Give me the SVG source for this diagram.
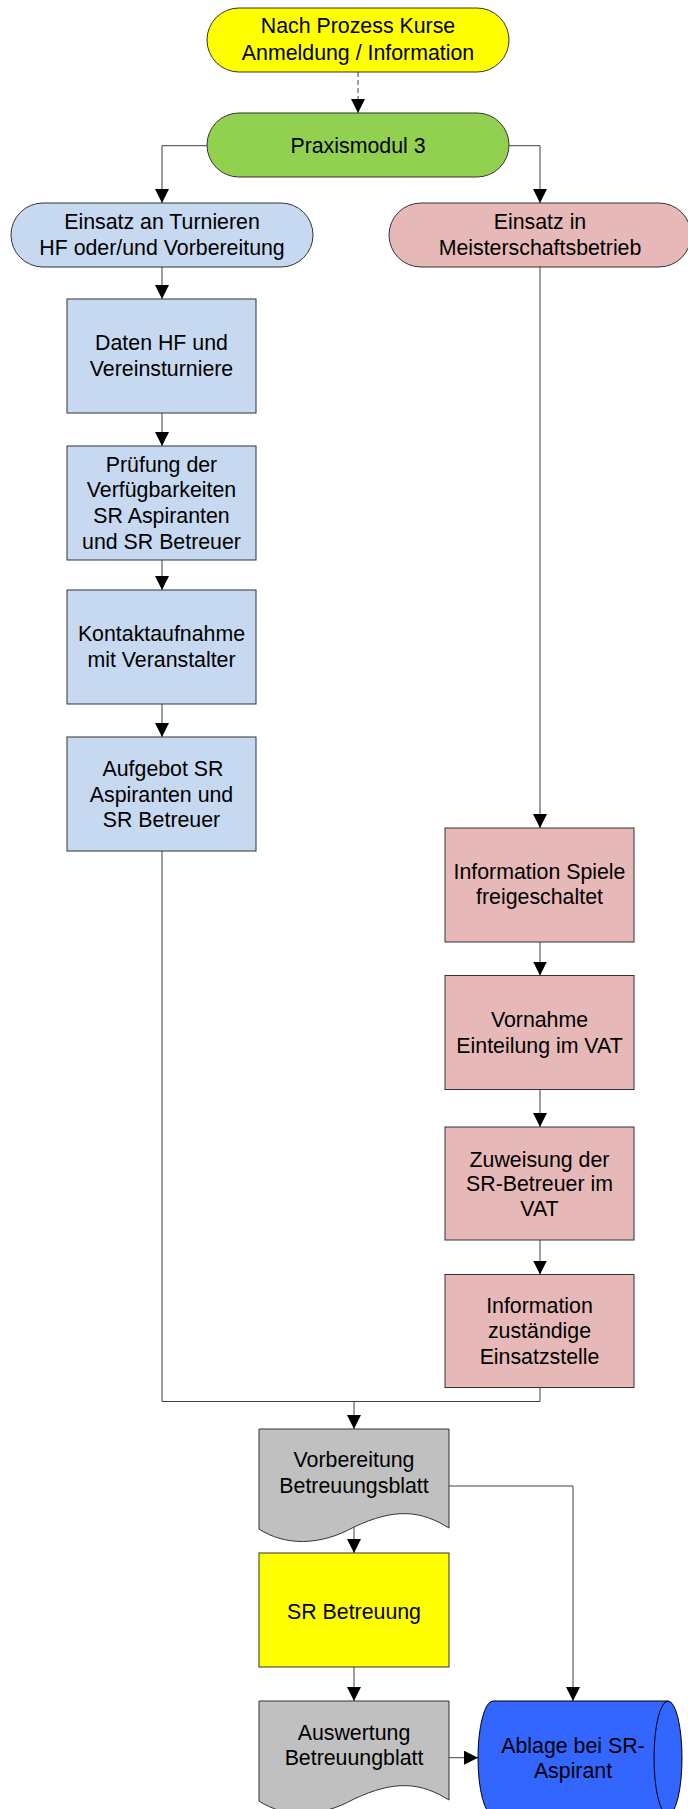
<svg xmlns="http://www.w3.org/2000/svg" width="688" height="1809" viewBox="0 0 688 1809">
<defs>
<marker id="arr" markerWidth="14" markerHeight="14" refX="14" refY="7" orient="auto" markerUnits="userSpaceOnUse"><path d="M0,0 L14,7 L0,14 Z" fill="#000"/></marker>
</defs>
<style>
text{font-family:"Liberation Sans",Arial,sans-serif;font-size:21.33px;fill:#000;text-anchor:middle}
.n{stroke:#333;stroke-width:1}
.c{fill:none;stroke:#404040;stroke-width:1}
.a{marker-end:url(#arr)}
.blue{fill:#C6D9F0}
.pink{fill:#E6B9B8}
.grey{fill:#C0C0C0}
.yel{fill:#FFFF00}
</style>
<g id="connectors">
<path class="c a" d="M358,72 V113" stroke="#222" stroke-dasharray="5,3"/>
<path class="c a" d="M207,145.7 H162 V203"/>
<path class="c a" d="M509,145.7 H540 V203"/>
<path class="c a" d="M162,267 V299"/>
<path class="c a" d="M162,413 V446"/>
<path class="c a" d="M162,560 V590"/>
<path class="c a" d="M162,704 V737"/>
<path class="c a" d="M540,267 V828"/>
<path class="c a" d="M540,942 V975.5"/>
<path class="c a" d="M540,1089 V1127"/>
<path class="c a" d="M540,1240 V1274.5"/>
<path class="c a" d="M162,851 V1401.5 H354 V1429"/>
<path class="c" d="M540,1387.5 V1401.5 H354"/>
<path class="c a" d="M354,1527 V1553"/>
<path class="c a" d="M449,1486 H573 V1701"/>
<path class="c a" d="M354,1667 V1701"/>
<path class="c a" d="M449,1757.7 H478"/>
</g>
<g id="start">
<rect class="n yel" x="207" y="8" width="302" height="64" rx="32"/>
<text x="358" y="33">Nach Prozess Kurse</text>
<text x="358" y="59.5">Anmeldung / Information</text>
</g>
<g id="praxismodul">
<rect class="n" fill="#92D050" x="207" y="113" width="302" height="64" rx="32"/>
<text x="358" y="152.7">Praxismodul 3</text>
</g>
<g id="turniere">
<rect class="n blue" x="11" y="203" width="302" height="64" rx="32"/>
<text x="162" y="229.3">Einsatz an Turnieren</text>
<text x="162" y="255">HF oder/und Vorbereitung</text>
</g>
<g id="meisterschaft">
<rect class="n pink" x="389" y="203" width="302" height="64" rx="32"/>
<text x="540" y="229.3">Einsatz in</text>
<text x="540" y="255">Meisterschaftsbetrieb</text>
</g>
<g id="daten">
<rect class="n blue" x="67" y="299" width="189" height="114"/>
<text x="161.5" y="350">Daten HF und</text>
<text x="161.5" y="375.7">Vereinsturniere</text>
</g>
<g id="pruefung">
<rect class="n blue" x="67" y="446" width="189" height="114"/>
<text x="161.5" y="472">Prüfung der</text>
<text x="161.5" y="497.4">Verfügbarkeiten</text>
<text x="161.5" y="523">SR Aspiranten</text>
<text x="161.5" y="548.7">und SR Betreuer</text>
</g>
<g id="kontakt">
<rect class="n blue" x="67" y="590" width="189" height="114"/>
<text x="161.5" y="640.5">Kontaktaufnahme</text>
<text x="161.5" y="666.5">mit Veranstalter</text>
</g>
<g id="aufgebot">
<rect class="n blue" x="67" y="737" width="189" height="114"/>
<text x="163" y="776">Aufgebot SR</text>
<text x="161.5" y="801.6">Aspiranten und</text>
<text x="161.5" y="827.3">SR Betreuer</text>
</g>
<g id="info-spiele">
<rect class="n pink" x="445" y="828" width="189" height="114"/>
<text x="539.5" y="879">Information Spiele</text>
<text x="539.5" y="904">freigeschaltet</text>
</g>
<g id="vornahme">
<rect class="n pink" x="445" y="975.5" width="189" height="114"/>
<text x="539.5" y="1027">Vornahme</text>
<text x="539.5" y="1052.6">Einteilung im VAT</text>
</g>
<g id="zuweisung">
<rect class="n pink" x="445" y="1127" width="189" height="113"/>
<text x="539.5" y="1166.6">Zuweisung der</text>
<text x="539.5" y="1191">SR-Betreuer im</text>
<text x="539.5" y="1216.4">VAT</text>
</g>
<g id="info-einsatz">
<rect class="n pink" x="445" y="1274.5" width="189" height="113"/>
<text x="539.5" y="1312.8">Information</text>
<text x="539.5" y="1337.7">zuständige</text>
<text x="539.5" y="1363.7">Einsatzstelle</text>
</g>
<g id="vorbereitung">
<path class="n grey" d="M259,1429 H449 V1528 C420,1510 395,1508 354,1527 C320,1546 285,1546 259,1529 Z"/>
<text x="354" y="1467">Vorbereitung</text>
<text x="354" y="1492.7">Betreuungsblatt</text>
</g>
<g id="betreuung">
<rect class="n yel" x="259" y="1553" width="190" height="114"/>
<text x="354" y="1619">SR Betreuung</text>
</g>
<g id="auswertung">
<path class="n grey" d="M259,1701 H449 V1800 C420,1782 395,1780 354,1799 C320,1818 285,1818 259,1801 Z"/>
<text x="354" y="1740">Auswertung</text>
<text x="354" y="1765">Betreuungblatt</text>
</g>
<g id="ablage">
<path stroke="#000" stroke-width="1" fill="#3366FF" d="M493,1701 H668 A14,57 0 0 1 668,1815 H493 A15,57 0 0 1 493,1701 Z"/>
<path fill="none" stroke="#000" stroke-width="1" d="M668,1701 A14,57 0 0 0 668,1815"/>
<text x="573" y="1753">Ablage bei SR-</text>
<text x="573" y="1778">Aspirant</text>
</g>
</svg>
